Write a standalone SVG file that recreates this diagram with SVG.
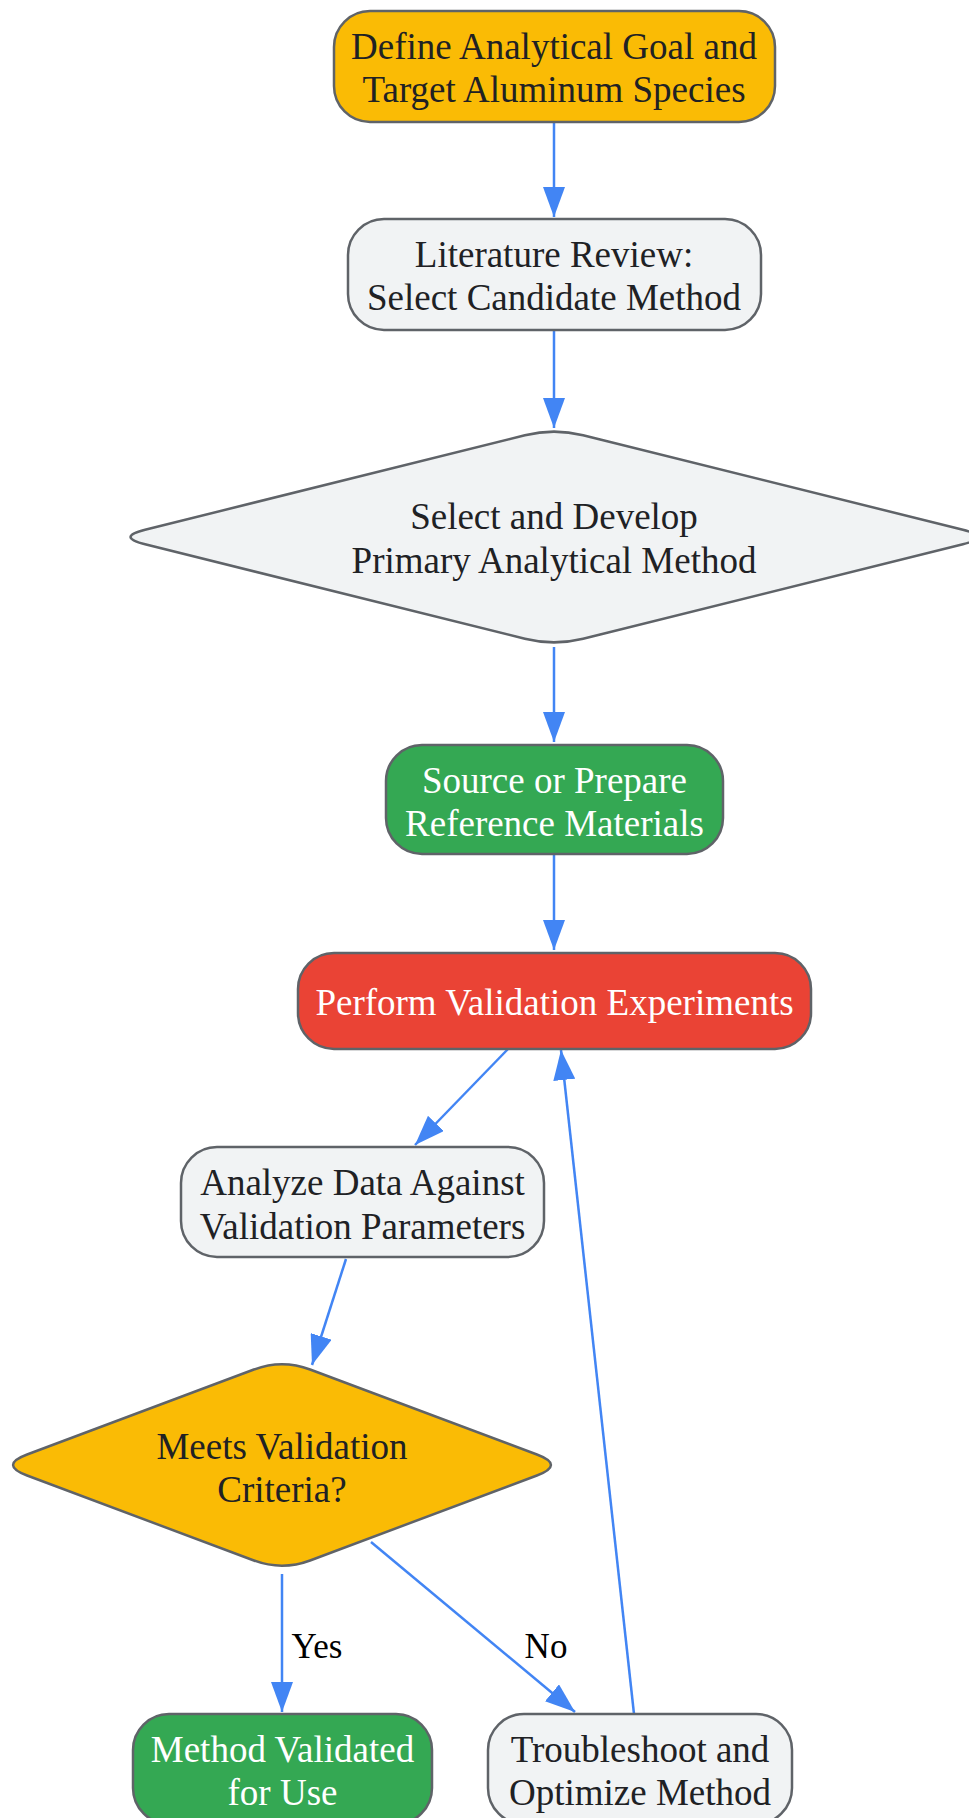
<svg xmlns="http://www.w3.org/2000/svg" width="969" height="1818" viewBox="0 0 969 1818">
<style>
.node{stroke:#5F6368;stroke-width:2.5}
.gray{fill:#F1F3F4}.yellow{fill:#FABB05}.green{fill:#34A853}.red{fill:#EA4335}
.t{font-family:"Liberation Serif",serif;font-size:37px;text-anchor:middle;fill:#202124}
.w{fill:#FFFFFF}
.edge{stroke:#4285F4;stroke-width:2.5;fill:none}
.lbl{font-family:"Liberation Serif",serif;font-size:35px;text-anchor:middle;fill:#000}
</style>
<defs>
<marker id="arr" markerUnits="userSpaceOnUse" markerWidth="30" markerHeight="22" refX="30" refY="11" orient="auto">
<path d="M0,0 L30,11 L0,22 Z" fill="#4285F4"/>
</marker>
</defs>
<rect width="969" height="1818" fill="#FFFFFF"/>
<g id="connectors">
<line class="edge" x1="554" y1="122" x2="554" y2="217" marker-end="url(#arr)"/>
<line class="edge" x1="554" y1="330" x2="554" y2="428" marker-end="url(#arr)"/>
<line class="edge" x1="554" y1="647" x2="554" y2="742" marker-end="url(#arr)"/>
<line class="edge" x1="554" y1="854" x2="554" y2="950" marker-end="url(#arr)"/>
<line class="edge" x1="508" y1="1049" x2="415" y2="1145" marker-end="url(#arr)"/>
<line class="edge" x1="346" y1="1259" x2="312" y2="1365" marker-end="url(#arr)"/>
<line class="edge" x1="282" y1="1574" x2="282" y2="1712" marker-end="url(#arr)"/>
<line class="edge" x1="371" y1="1542" x2="575" y2="1712" marker-end="url(#arr)"/>
<line class="edge" x1="634" y1="1714" x2="561" y2="1050" marker-end="url(#arr)"/>
<text class="lbl" x="317" y="1658">Yes</text>
<text class="lbl" x="546" y="1658">No</text>
</g>
<g id="n1">
<rect class="node yellow" x="334" y="11" width="441" height="111" rx="36"/>
<text class="t" x="554" y="59">Define Analytical Goal and</text>
<text class="t" x="554" y="102">Target Aluminum Species</text>
</g>
<g id="n2">
<rect class="node gray" x="348" y="219" width="413" height="111" rx="36"/>
<text class="t" x="554" y="267">Literature Review:</text>
<text class="t" x="554" y="310">Select Candidate Method</text>
</g>
<g id="n3">
<path class="node gray" d="M583.1,435.25 L962.9,529.75 Q992,537 962.9,544.25 L583.1,638.75 Q554,646 524.9,638.75 L145.1,544.25 Q116,537 145.1,529.75 L524.9,435.25 Q554,428 583.1,435.25 Z"/>
<text class="t" x="554" y="529">Select and Develop</text>
<text class="t" x="554" y="573">Primary Analytical Method</text>
</g>
<g id="n4">
<rect class="node green" x="386" y="745" width="337" height="109" rx="36"/>
<text class="t w" x="554.5" y="793">Source or Prepare</text>
<text class="t w" x="554.5" y="836">Reference Materials</text>
</g>
<g id="n5">
<rect class="node red" x="298" y="953" width="513" height="96" rx="36"/>
<text class="t w" x="554.5" y="1015">Perform Validation Experiments</text>
</g>
<g id="n6">
<rect class="node gray" x="181" y="1147" width="363" height="110" rx="36"/>
<text class="t" x="362.5" y="1195">Analyze Data Against</text>
<text class="t" x="362.5" y="1239">Validation Parameters</text>
</g>
<g id="n7">
<path class="node yellow" d="M310.1,1369.5 L536.9,1454.5 Q565,1465 536.9,1475.5 L310.1,1560.5 Q282,1571 253.9,1560.5 L27.1,1475.5 Q-1,1465 27.1,1454.5 L253.9,1369.5 Q282,1359 310.1,1369.5 Z"/>
<text class="t" x="282" y="1459">Meets Validation</text>
<text class="t" x="282" y="1502">Criteria?</text>
</g>
<g id="n8">
<rect class="node green" x="133" y="1714" width="299" height="110" rx="36"/>
<text class="t w" x="282.5" y="1762">Method Validated</text>
<text class="t w" x="282.5" y="1805">for Use</text>
</g>
<g id="n9">
<rect class="node gray" x="488" y="1714" width="304" height="110" rx="36"/>
<text class="t" x="640" y="1762">Troubleshoot and</text>
<text class="t" x="640" y="1805">Optimize Method</text>
</g>
</svg>
